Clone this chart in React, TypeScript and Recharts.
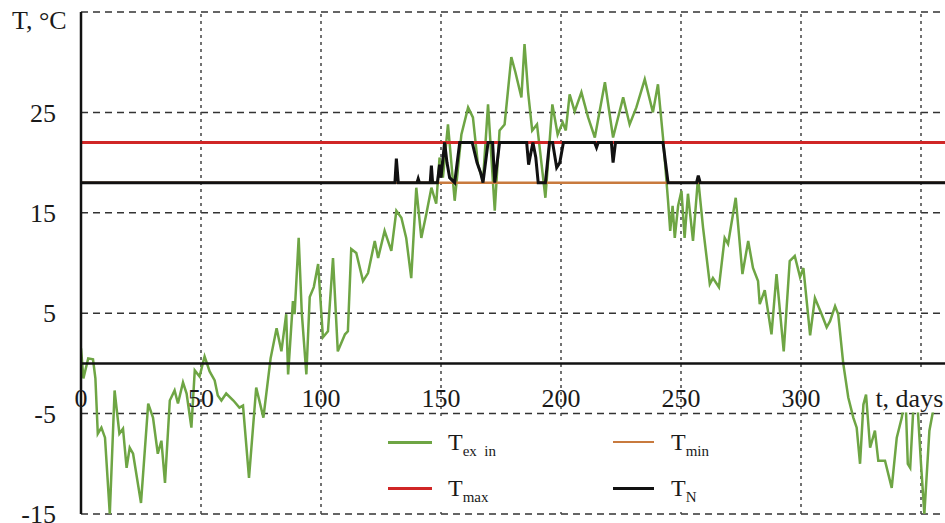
import { LineChart, Line, XAxis, YAxis, ReferenceLine, ReferenceDot } from "recharts";

const FONT = '"Liberation Serif", "Times New Roman", serif';

// outdoor air temperature during the year, [day, °C]
const tExIn: [number, number][] = [
  [0, 1.5], [1, -1.5], [3, 0.5], [5, 0.4], [6, -1.5], [7, -7], [8.5, -6.4], [10, -7.4],
  [12, -15], [14, -2.7], [16, -7], [17.5, -6.5], [19, -10.4], [20.3, -8.4], [21.7, -9],
  [25, -13.9], [28, -4], [30, -5.4], [32, -9], [33.5, -7.7], [35, -11.9], [37, -3.7],
  [39, -2.7], [40.4, -4], [42.5, -1.9], [44, -3], [46, -6.4], [47.4, -0.7], [49.4, -1.3],
  [51.5, 0.7], [53.6, -0.8], [55.7, -1.7], [57, -3.2], [58.5, -3.7], [60.5, -3],
  [63.5, -3.7], [66, -4.4], [67.5, -4.2], [70, -11.4], [73, -2.4], [76, -5.4], [79, 0.5],
  [81.5, 3.5], [83.5, 1.2], [85.5, 4.9], [86.3, -1.1], [88.3, 6.2], [89, 4.9], [90.7, 12.5],
  [92, 5], [93.9, -1.1], [95.3, 6.6], [97, 7.6], [98.8, 9.9], [100.8, 2.6], [102.9, 3.2],
  [105, 10.5], [107, 1.2], [110, 2.9], [111.2, 3.2], [112.6, 11.4], [114.7, 11],
  [117.5, 8.2], [119.6, 9], [122.4, 12.2], [123.8, 10.5], [126.5, 13.2], [129.3, 11.2],
  [131.4, 15.2], [133.5, 14.5], [135.5, 12.5], [137.6, 8.5], [139.7, 17.5], [141.8, 12.5],
  [143.9, 14.9], [146, 17.5], [148, 15.9], [149.4, 20.5], [150.8, 18.5], [152.9, 23.8],
  [155.7, 16.2], [158.5, 22.8], [161.3, 25.5], [163.3, 24.5], [165.4, 19.8], [167.5, 18.2],
  [169.6, 25.8], [172.4, 15.2], [174.4, 23.2], [176.5, 23.8], [179.3, 30.5], [181, 29],
  [183.5, 26.5], [184.8, 31.8], [186.3, 27], [188, 23.2], [190, 23.8], [193.5, 16.5],
  [196.4, 25.8], [198.6, 22.8], [200.7, 24], [202, 23.2], [203.6, 26.8], [205.7, 25.1],
  [208.5, 27], [211.3, 24.5], [214.1, 22.5], [218.3, 28], [221.7, 22.5], [225.9, 26.5],
  [228.6, 23.8], [231.4, 25.5], [234.9, 28.3], [238.3, 25], [240.4, 27.8], [242.5, 22.5],
  [244.6, 16.2], [245.5, 13.2], [246.5, 15.7], [247.4, 12.5], [248.8, 15.7], [250.2, 17.2],
  [251.5, 12.5], [252.9, 16.9], [255, 12.2], [257.1, 18.5], [259.2, 13.5], [262, 7.9],
  [263.3, 8.5], [265.8, 7.6], [268.2, 12.5], [269.6, 11.9], [272.8, 16.5], [275.6, 8.9],
  [278, 12.2], [280, 9.5], [282.1, 8.2], [282.8, 5.9], [284.9, 7.3], [287.7, 2.9],
  [289.8, 8.9], [292.8, 1.2], [295.3, 10.2], [297.4, 10.7], [299.6, 8.6], [301, 9.5],
  [303.8, 2.8], [305.8, 6.5], [308.6, 4.9], [310.7, 3.6], [312.1, 4.2], [314.2, 5.7],
  [315.5, 4.9], [317.6, 0], [319.7, -3.4], [321.8, -5.4], [323.2, -6.4], [324.6, -10],
  [326, -4.1], [327.1, -3.1], [328.8, -8.4], [330.8, -6.7], [332.2, -9.7], [335, -9.7],
  [337.8, -12.4], [339.9, -7.4], [342, -5.4], [343.5, -3], [344.5, -10], [345.5, -10.4],
  [346.9, -4], [348.5, -4], [350, -10], [351.4, -15], [353.5, -6.7], [355.6, -4], [359.7, -4],
];

// normative indoor temperature, [day, °C]
const tN: [number, number][] = [
  [0, 18], [130.8, 18], [131.4, 20.4], [132.2, 18], [140, 18], [140.5, 18.4], [141, 18],
  [145.5, 18], [146, 19.7], [146.5, 18], [148.5, 18], [149.4, 19.8], [150, 18.5],
  [151.5, 22], [152.5, 20], [153.6, 18.5], [155.7, 18], [157.8, 22], [163, 22], [165, 20],
  [166.5, 19], [167.5, 18], [169.6, 22], [171.5, 22], [172.4, 18], [174.4, 22],
  [185.7, 22], [186.5, 19.8], [188.3, 22], [189.5, 20.5], [190.5, 18], [193.5, 18],
  [195.2, 22], [196.5, 22], [198.2, 19.5], [199.5, 20], [201, 22], [214, 22],
  [214.8, 21.5], [215.5, 22], [221, 22], [221.7, 20], [222.7, 22], [242.5, 22],
  [244.6, 18], [256.5, 18], [257.2, 18.7], [258, 18], [360, 18],
];

const tMax = 22;
const tMin = 18;

const xTicks = [0, 50, 100, 150, 200, 250, 300];
const xGrid = [50, 100, 150, 200, 250, 300, 350];
const yTicks = [-15, -5, 5, 15, 25];
const yGrid = [-15, -5, 5, 15, 25, 35];
const xTitleAt = 331;

const GREEN = "#6ea544";
const RED = "#d02626";
const ORANGE = "#c87a3e";
const BLACK = "#111";

const legendItems = [
  { sub: "ex  in", color: GREEN, width: 3, col: 0, row: 0 },
  { sub: "max", color: RED, width: 3, col: 0, row: 1 },
  { sub: "min", color: ORANGE, width: 2, col: 1, row: 0 },
  { sub: "N", color: BLACK, width: 3, col: 1, row: 1 },
];

const toPoints = (rows: [number, number][]) => rows.map(([day, t]) => ({ day, t }));

const AxisTitle = (props: any) => {
  const { x, y } = props.viewBox;
  return (
    <g>
      <rect x={x - 5} y={y + 5} width={90} height={44} fill="#fff" />
      <text x={x} y={y + 44} fontSize={26} fontFamily={FONT} fill="#1a1a1a">
        t, days
      </text>
    </g>
  );
};

const LegendBox = () => (
  <div
    style={{
      position: "absolute",
      left: 345,
      top: 418,
      width: 425,
      height: 94,
      background: "#fff",
      fontFamily: FONT,
      color: "#1a1a1a",
    }}
  >
    {legendItems.map((it) => (
      <div
        key={it.sub}
        style={{
          position: "absolute",
          left: it.col === 0 ? 43 : 268,
          top: it.row === 0 ? 6 : 52,
          height: 36,
          display: "flex",
          alignItems: "center",
        }}
      >
        <span style={{ display: "inline-block", width: it.col === 0 ? 44 : 41, height: it.width, background: it.color }} />
        <span style={{ marginLeft: it.col === 0 ? 16 : 17, fontSize: 24, lineHeight: 1 }}>
          T<sub style={{ fontSize: 15, lineHeight: 0, whiteSpace: "pre" }}>{it.sub}</sub>
        </span>
      </div>
    ))}
  </div>
);

export default function App() {
  return (
    <div style={{ position: "absolute", left: 0, top: 0, width: 945, height: 523, background: "#fff", overflow: "hidden" }}>
      <LineChart width={945} height={523} margin={{ top: 12, right: 0, bottom: 9, left: 0 }}>
        <XAxis type="number" dataKey="day" domain={[0, 360]} hide allowDataOverflow />
        <YAxis
          type="number"
          domain={[-15, 35]}
          ticks={yTicks}
          interval={0}
          width={81}
          tickLine={false}
          tickSize={0}
          tickMargin={25}
          axisLine={{ stroke: BLACK, strokeWidth: 2.5 }}
          tick={{ fontSize: 26, fontFamily: FONT, fill: "#1a1a1a" }}
          allowDataOverflow
        />
        {yGrid.map((v) => (
          <ReferenceLine key={`h${v}`} y={v} stroke="#333" strokeWidth={1.5} strokeDasharray="7 5" />
        ))}
        {xGrid.map((v) => (
          <ReferenceLine key={`v${v}`} x={v} stroke="#444" strokeWidth={1.5} strokeDasharray="3 4" />
        ))}
        <Line data={toPoints(tExIn)} dataKey="t" stroke={GREEN} strokeWidth={2.5} dot={false} isAnimationActive={false} />
        <ReferenceLine y={tMax} stroke={RED} strokeWidth={3} />
        <ReferenceLine y={tMin} stroke={ORANGE} strokeWidth={2.5} />
        <ReferenceLine y={0} stroke={BLACK} strokeWidth={2.5} />
        <Line data={toPoints(tN)} dataKey="t" stroke={BLACK} strokeWidth={3} dot={false} isAnimationActive={false} />
        {xTicks.map((v) => (
          <ReferenceDot
            key={`l${v}`}
            x={v}
            y={0}
            r={0}
            fill="none"
            stroke="none"
            label={{ value: String(v), position: "bottom", offset: 25, fontSize: 26, fontFamily: FONT, fill: "#1a1a1a" }}
          />
        ))}
        <ReferenceDot x={xTitleAt} y={0} r={0} fill="none" stroke="none" label={<AxisTitle />} />
      </LineChart>
      <div style={{ position: "absolute", left: 12, top: 8, fontFamily: FONT, fontSize: 26, lineHeight: 1, color: "#1a1a1a" }}>
        T, °C
      </div>
      <LegendBox />
    </div>
  );
}
